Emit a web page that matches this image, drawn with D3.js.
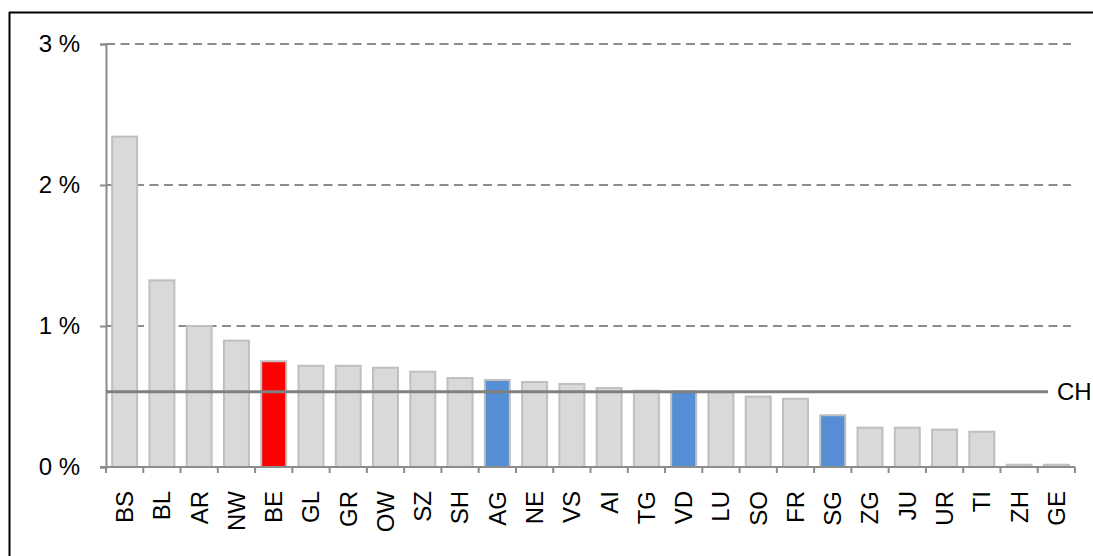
<!DOCTYPE html>
<html>
<head>
<meta charset="utf-8">
<script src="https://cdn.jsdelivr.net/npm/d3@7"></script>
<style>
  html, body { margin: 0; background: #fff; overflow: hidden; }
  svg { display: block; }
  text { font-family: "Liberation Sans", Arial, sans-serif; fill: #000; }
</style>
</head>
<body>
<div id="chart-container"></div>
<script>
const cantons = ['BS','BL','AR','NW','BE','GL','GR','OW','SZ','SH','AG','NE','VS','AI','TG','VD','LU','SO','FR','SG','ZG','JU','UR','TI','ZH','GE']
const shares = [2.343,1.324,1.0,0.896,0.75,0.718,0.718,0.704,0.676,0.631,0.617,0.603,0.589,0.56,0.541,0.535,0.53,0.499,0.484,0.367,0.279,0.279,0.265,0.25,0.016,0.016]
const highlightRed = ['BE']
const highlightBlue = ['AG','VD','SG']
const yTicks = [0, 1, 2, 3]
const chValue = 0.534
const chLabel = 'CH'

const width = 1093
const height = 556
const plotLeft = 106, plotRight = 1075, plotTop = 44, plotBottom = 467
const fontSize = '24px'

const svg = d3.select('#chart-container')
  .append('svg')
  .attr('width', width)
  .attr('height', height)
  .style('background-color', '#fff')

// outer frame: top and left edges only
svg.append('line')
  .attr('x1', 9.5).attr('x2', 9.5)
  .attr('y1', 12).attr('y2', height)
  .attr('stroke', '#000')
  .attr('stroke-width', 2)
svg.append('line')
  .attr('x1', 9).attr('x2', width)
  .attr('y1', 12.5).attr('y2', 12.5)
  .attr('stroke', '#000')
  .attr('stroke-width', 2)

const xScale = d3.scaleBand()
  .domain(cantons)
  .range([plotLeft, plotRight])
  .paddingInner(0.33)
  .paddingOuter(0.165)

const yScale = d3.scaleLinear()
  .domain([0, 3])
  .range([plotBottom, plotTop])

// gridlines
svg.selectAll('.grid')
  .data(yTicks.filter(d => d > 0))
  .enter()
  .append('line')
  .attr('x1', plotLeft).attr('x2', 1071)
  .attr('y1', d => yScale(d)).attr('y2', d => yScale(d))
  .attr('stroke', '#8c8c8c')
  .attr('stroke-width', 2)
  .attr('stroke-dasharray', '9,5.5')

// y axis
const yAxis = d3.axisLeft(yScale)
  .tickValues(yTicks)
  .tickSize(6)
  .tickPadding(20)
  .tickFormat(d => d + ' %')

const gy = svg.append('g')
  .attr('transform', `translate(${plotLeft},0)`)
  .call(yAxis)
gy.attr('font-size', null).attr('font-family', null)
gy.select('.domain').attr('stroke', '#8c8c8c').attr('stroke-width', 2)
gy.selectAll('.tick line').attr('stroke', '#8c8c8c').attr('stroke-width', 2)
gy.selectAll('.tick text')
  .style('font-size', fontSize)
  .attr('fill', '#000')

// bars
const data = cantons.map((c, i) => ({canton: c, value: shares[i]}))
svg.selectAll('.bar')
  .data(data)
  .enter()
  .append('rect')
  .attr('x', d => xScale(d.canton))
  .attr('y', d => yScale(d.value))
  .attr('width', xScale.bandwidth())
  .attr('height', d => plotBottom - yScale(d.value))
  .attr('fill', d => highlightRed.includes(d.canton) ? '#ff0000' : highlightBlue.includes(d.canton) ? '#558ed5' : '#d9d9d9')
  .attr('stroke', '#bfbfbf')
  .attr('stroke-width', 2)

// x axis: baseline and ticks at band boundaries
const step = xScale.step()
const boundaries = d3.range(cantons.length + 1).map(i => plotLeft + i * step)
svg.append('line')
  .attr('x1', plotLeft - 6).attr('x2', plotRight)
  .attr('y1', plotBottom).attr('y2', plotBottom)
  .attr('stroke', '#8c8c8c')
  .attr('stroke-width', 2)
svg.selectAll('.xtick')
  .data(boundaries)
  .enter()
  .append('line')
  .attr('x1', d => d).attr('x2', d => d)
  .attr('y1', plotBottom).attr('y2', plotBottom + 6)
  .attr('stroke', '#8c8c8c')
  .attr('stroke-width', 2)

svg.selectAll('.xlabel')
  .data(cantons)
  .enter()
  .append('text')
  .attr('transform', d => `translate(${xScale(d) + xScale.bandwidth() / 2},491) rotate(-90)`)
  .attr('text-anchor', 'end')
  .attr('dy', '0.35em')
  .style('font-size', fontSize)
  .text(d => d)

// CH average line
svg.append('line')
  .attr('x1', plotLeft).attr('x2', 1048)
  .attr('y1', yScale(chValue)).attr('y2', yScale(chValue))
  .attr('stroke', '#808080')
  .attr('stroke-width', 3)
svg.append('text')
  .attr('x', 1057)
  .attr('y', yScale(chValue))
  .attr('dy', '0.35em')
  .style('font-size', fontSize)
  .text(chLabel)
</script>
</body>
</html>
